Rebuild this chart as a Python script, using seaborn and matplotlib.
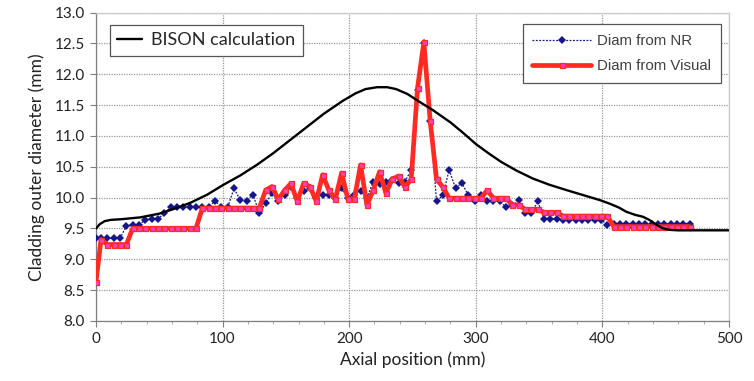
import matplotlib
matplotlib.use("Agg")
import matplotlib.pyplot as plt
import seaborn as sns
import pandas as pd
from matplotlib.ticker import MultipleLocator

# ---------------- data ----------------
bison_x = [0, 3, 7, 12, 20, 35, 50, 62, 75, 88, 100, 114, 127, 140, 150, 165,
           180, 195, 205, 213, 222, 230, 237, 246, 255, 266, 280, 290, 300, 310,
           320, 332, 345, 358, 372, 385, 398, 406, 413, 419, 426, 432, 437, 442,
           447, 452, 460, 500]
bison_y = [9.50, 9.57, 9.62, 9.64, 9.65, 9.68, 9.74, 9.82, 9.92, 10.05, 10.20,
           10.36, 10.53, 10.72, 10.88, 11.12, 11.36, 11.57, 11.69, 11.76, 11.79,
           11.79, 11.76, 11.68, 11.56, 11.42, 11.22, 11.05, 10.87, 10.72, 10.58,
           10.44, 10.31, 10.21, 10.12, 10.04, 9.96, 9.90, 9.84, 9.77, 9.72, 9.69,
           9.64, 9.57, 9.51, 9.48, 9.47, 9.47]

axial_x = [0, 4, 9, 14, 19, 24, 29, 34, 39, 44, 49, 54, 59, 64, 69, 74, 79, 84,
           89, 94, 99, 104, 109, 114, 119, 124, 129, 134, 139, 144, 149, 154, 159,
           164, 169, 174, 179, 184, 189, 194, 199, 204, 209, 214, 219, 224, 229,
           234, 239, 244, 249, 254, 259, 264, 269, 274, 279, 284, 289, 294, 299,
           304, 309, 314, 319, 324, 329, 334, 339, 344, 349, 354, 359, 364, 369,
           374, 379, 384, 389, 394, 399, 404, 409, 414, 419, 424, 429, 434, 439,
           444, 449, 454, 459, 464, 469]

nr_y = [9.34, 9.34, 9.34, 9.34, 9.34, 9.54, 9.56, 9.56, 9.64, 9.65, 9.65, 9.75,
        9.84, 9.84, 9.84, 9.84, 9.84, 9.84, 9.84, 9.95, 9.84, 9.84, 10.15, 9.96,
        9.95, 10.05, 9.75, 9.91, 10.07, 9.94, 10.04, 10.18, 10.00, 10.10, 10.15,
        10.00, 10.05, 10.05, 10.00, 10.15, 10.00, 10.05, 10.10, 10.00, 10.26,
        10.22, 10.26, 10.28, 10.24, 10.26, 10.45, 11.74, 12.50, 11.24, 9.94,
        10.04, 10.45, 10.15, 10.24, 10.04, 9.95, 10.04, 9.95, 9.94, 9.94, 9.84,
        9.88, 9.96, 9.75, 9.75, 9.94, 9.65, 9.65, 9.65, 9.64, 9.64, 9.64, 9.64,
        9.64, 9.64, 9.64, 9.56, 9.58, 9.58, 9.58, 9.58, 9.58, 9.58, 9.58, 9.58,
        9.58, 9.58, 9.58, 9.58, 9.58]

vis_y = [8.64, 9.32, 9.24, 9.24, 9.24, 9.24, 9.50, 9.50, 9.50, 9.50, 9.50, 9.50,
         9.50, 9.50, 9.50, 9.50, 9.50, 9.83, 9.83, 9.83, 9.83, 9.83, 9.83, 9.83,
         9.83, 9.83, 9.83, 10.12, 10.18, 9.97, 10.12, 10.23, 9.94, 10.23, 10.18,
         9.94, 10.37, 10.12, 9.97, 10.40, 9.97, 9.97, 10.53, 9.88, 10.12, 10.42,
         10.07, 10.30, 10.35, 10.17, 10.30, 11.78, 12.52, 11.24, 10.30, 10.17,
         9.99, 9.99, 9.99, 9.99, 9.99, 9.99, 10.12, 9.99, 9.99, 9.99, 9.88, 9.88,
         9.81, 9.81, 9.81, 9.76, 9.76, 9.76, 9.70, 9.70, 9.70, 9.70, 9.70, 9.70,
         9.70, 9.70, 9.53, 9.53, 9.53, 9.53, 9.53, 9.53, 9.53, 9.53, 9.53, 9.53,
         9.53, 9.53, 9.53]

x_ticks = [0, 100, 200, 300, 400, 500]
y_ticks = [8.0, 8.5, 9.0, 9.5, 10.0, 10.5, 11.0, 11.5, 12.0, 12.5, 13.0]

bison_df = pd.DataFrame({"x": bison_x, "y": bison_y})
meas_df = pd.DataFrame({"x": axial_x, "nr": nr_y, "vis": vis_y})

# ---------------- style ----------------
sns.set_theme(style="white")
plt.rcParams["font.family"] = ["Lato", "DejaVu Sans"]

fig = plt.figure(figsize=(7.54, 3.81), dpi=100)
ax = fig.add_axes([0.1273, 0.1575, 0.8395, 0.8095])

sns.lineplot(data=meas_df, x="x", y="nr", ax=ax, sort=False, estimator=None,
             color="#15168A", linewidth=0.9, linestyle=(0, (1.5, 1.2)),
             marker="D", markersize=3.8, markeredgewidth=0,
             markerfacecolor="#15168A", label="Diam from NR", legend=False,
             zorder=3)
sns.lineplot(data=meas_df, x="x", y="vis", ax=ax, sort=False, estimator=None,
             color="#FF2A22", linewidth=3.4, marker="s", markersize=3.6,
             markerfacecolor="#FF3FC0", markeredgecolor="#FF2A22",
             markeredgewidth=0.9, label="Diam from Visual", legend=False,
             zorder=4)
sns.lineplot(data=bison_df, x="x", y="y", ax=ax, sort=False, estimator=None,
             color="black", linewidth=1.7, label="BISON calculation",
             legend=False, zorder=5)

ax.set_xlim(0, 500)
ax.set_ylim(8.0, 13.0)
ax.set_xticks(x_ticks)
ax.set_yticks(y_ticks)
ax.set_yticklabels([f"{v:.1f}" for v in y_ticks])
ax.xaxis.set_minor_locator(MultipleLocator(20))

ax.grid(True, which="major", color="#9A9A9A", linestyle=(0, (1, 1)),
        linewidth=0.9)
ax.set_axisbelow(True)

for s in ["left", "bottom"]:
    ax.spines[s].set_color("#7F7F7F")
    ax.spines[s].set_linewidth(0.9)
for s in ["top", "right"]:
    ax.spines[s].set_color("#C8C8C8")
    ax.spines[s].set_linewidth(0.9)

ax.tick_params(axis="both", which="major", direction="out", length=4,
               width=0.8, color="#7F7F7F", labelsize=11, labelcolor="#222222",
               bottom=True, left=True, pad=4)
ax.tick_params(axis="x", which="minor", direction="out", length=2.5,
               width=0.6, color="#9A9A9A", bottom=True)

ax.set_xlabel("Axial position (mm)", fontsize=12.5, color="#222222", labelpad=4)
ax.set_ylabel("Cladding outer diameter (mm)", fontsize=12.5, color="#222222",
              labelpad=7)

lines = ax.get_lines()
h_nr, h_vis, h_bison = lines[0], lines[1], lines[2]

leg1 = ax.legend(handles=[h_bison], labels=["BISON calculation"],
                 loc="upper left", bbox_to_anchor=(0.022, 0.959),
                 borderaxespad=0, frameon=True, fancybox=False, fontsize=13,
                 handlelength=1.4, handletextpad=0.5, borderpad=0.4,
                 framealpha=1, edgecolor="#555555")
leg1.get_frame().set_linewidth(0.9)
ax.add_artist(leg1)

leg2 = ax.legend(handles=[h_nr, h_vis], labels=["Diam from NR", "Diam from Visual"],
                 loc="upper right", bbox_to_anchor=(0.987, 0.962),
                 borderaxespad=0, frameon=True, fancybox=False,
                 prop={"family": ["Liberation Sans", "DejaVu Sans"], "size": 10.8},
                 handlelength=3.9, handletextpad=0.4, borderpad=0.65,
                 labelspacing=0.75, framealpha=1, edgecolor="#555555")
leg2.get_frame().set_linewidth(0.9)
for t in leg2.get_texts():
    t.set_color("#404040")

fig.savefig("out.png", dpi=100)
